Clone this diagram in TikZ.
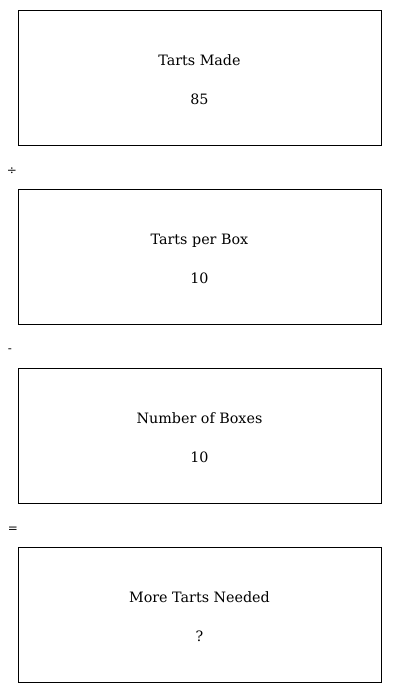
\documentclass[tikz,border=0pt]{standalone}
\usepackage{fontspec}
\setmainfont{DejaVu Serif}
\begin{document}
\begin{tikzpicture}[x=1pt,y=-1pt,
  qbox/.style={draw,line width=0.9pt},
  lbl/.style={font=\fontsize{14.3}{17}\selectfont,inner sep=0pt,anchor=base},
  op/.style={font=\fontsize{12}{14}\selectfont,inner sep=0pt}]
\useasboundingbox (0,0) rectangle (400,693);
\foreach \i/\t/\v/\top in {1/Tarts Made/85/10, 2/Tarts per Box/10/189, 3/Number of Boxes/10/368, 4/More Tarts Needed/?/547}{
  \draw[qbox] (18,\top) rectangle (381,\top+135);
  \node[lbl] (t\i) at (199.5,\top+55.5) {\t};
  \node[lbl] (v\i) at (199.5,\top+94.5) {\v};
}
\node[op] (o1) at (12,171) {÷};
\node[op] (o2) at (10,350.5) {-};
\node[op] (o3) at (13,529.5) {=};
\end{tikzpicture}
\end{document}
